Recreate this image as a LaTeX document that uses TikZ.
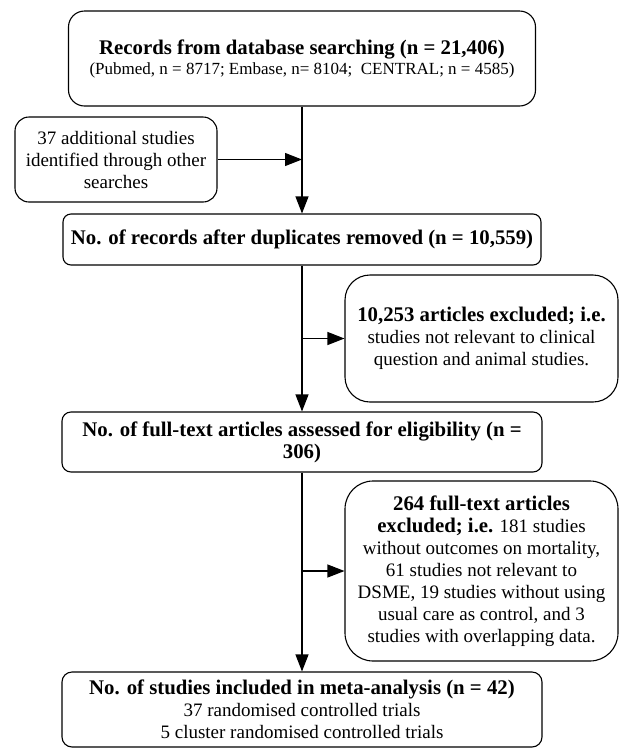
\documentclass[tikz,border=0pt]{standalone}
\usepackage{fontspec}
\setmainfont{Liberation Serif}
\usetikzlibrary{arrows.meta}
\newcommand{\headfont}{\fontsize{20.8}{22}\selectfont\bfseries}

\begin{document}
\begin{tikzpicture}[x=1pt,y=-1pt,
  box/.style={draw,line width=1.1pt,align=center,inner sep=2pt,font=\fontsize{19}{22}\selectfont},
  arr/.style={line width=1.1pt,-{Triangle[length=17pt,width=13pt]}}]
\useasboundingbox (0,0) rectangle (619,748);
\node[box,rounded corners=16pt,minimum width=467pt,minimum height=95pt] (src) at (302,58.5) {{\headfont Records from database searching (n = 21,406)}\\[-2pt]{\fontsize{17}{20}\selectfont (Pubmed, n = 8717; Embase, n= 8104;\ \ CENTRAL; n = 4585)}};
\node[box,rounded corners=14pt,minimum width=202pt,minimum height=85pt] (add) at (116,159.5) {37 additional studies\\identified through other\\searches};
\node[box,rounded corners=8pt,minimum width=478pt,minimum height=51pt] (dedup) at (302,239.5) {\headfont No. of records after duplicates removed (n = 10,559)};
\node[box,rounded corners=25pt,minimum width=273pt,minimum height=127pt] (excl1) at (481.5,338.5) {{\headfont 10,253 articles excluded; i.e.}\\studies not relevant to clinical\\question and animal studies.};
\node[box,rounded corners=9pt,minimum width=480pt,minimum height=60pt] (elig) at (302,442) {\headfont No. of full-text articles assessed for eligibility (n =\\\headfont 306)};
\node[box,rounded corners=28pt,minimum width=273pt,minimum height=180pt] (excl2) at (481.5,571) {{\headfont 264 full-text articles}\\{\headfont excluded; i.e.} 181 studies\\without outcomes on mortality,\\61 studies not relevant to\\DSME, 19 studies without using\\usual care as control, and 3\\studies with overlapping data.};
\node[box,rounded corners=10pt,minimum width=480pt,minimum height=75pt] (incl) at (302,709.5) {{\headfont No. of studies included in meta-analysis (n = 42)}\\37 randomised controlled trials\\5 cluster randomised controlled trials};
% connectors
\draw[arr] (src) -- (dedup);
\draw[arr] (add.east) -- (add.east -| src.south);
\draw[arr] (dedup) -- (elig);
\draw[arr] (dedup.south |- excl1.west) -- (excl1.west);
\draw[arr] (elig) -- (incl);
\draw[arr] (elig.south |- excl2.west) -- (excl2.west);
\end{tikzpicture}
\end{document}
